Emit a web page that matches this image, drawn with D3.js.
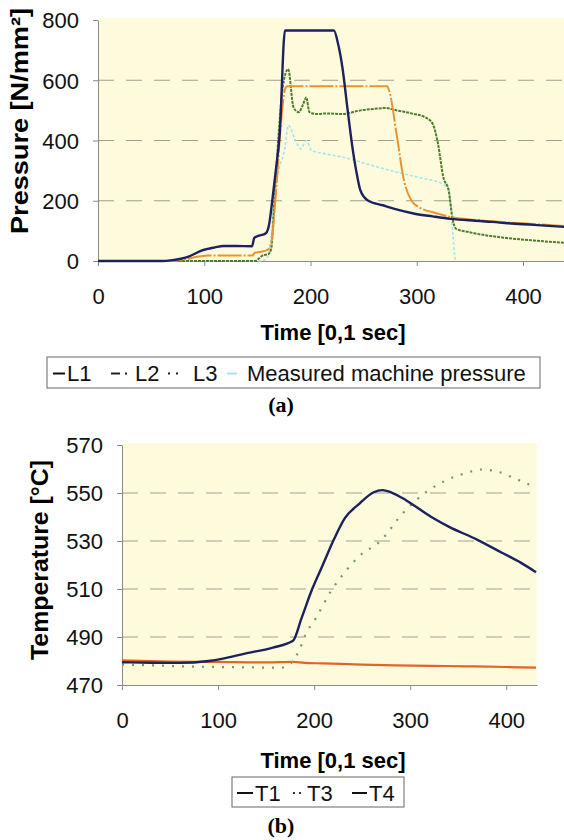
<!DOCTYPE html>
<html>
<head>
<meta charset="utf-8">
<script src="https://cdn.jsdelivr.net/npm/d3@7"></script>
<style>
  body { margin: 0; background: #fff; }
  text { font-family: "Liberation Sans", Arial, sans-serif; }
</style>
</head>
<body>
<div id="chart"></div>
<script>
// ---- chart (a): pressure ----
const l1Time = [0, 60, 70, 84, 98, 110, 118, 130, 145, 147, 150, 158, 161, 164, 167, 171, 176, 222, 226, 230, 235, 239, 243, 247, 254, 268, 280, 298, 315, 332, 360, 383, 410, 440];
const l1Pres = [0, 0, 3, 13, 35, 45, 50, 50, 49, 76, 82, 92, 120, 200, 290, 422, 765, 765, 720, 643, 500, 389, 300, 234, 201, 185, 172, 157, 148, 140, 133, 126, 120, 113];

const l2Time = [0, 70, 80, 95, 105, 145, 148, 152, 160, 163, 168, 172, 176, 178, 272, 274, 281, 288, 295, 305, 315, 332, 360, 400, 440];
const l2Pres = [0, 0, 4, 15, 18, 18, 28, 30, 38, 60, 250, 450, 570, 580, 580, 566, 422, 267, 201, 173, 162, 146, 135, 125, 116];

const l3Time = [0, 148, 152, 156, 160, 163, 166, 170, 174, 179, 184, 189, 193, 196, 199, 206, 215, 230, 247, 260, 271, 281, 295, 308, 315, 320, 325, 330, 334, 337, 349, 383, 410, 440];
const l3Pres = [0, 0, 10, 20, 22, 40, 200, 420, 580, 637, 510, 494, 520, 543, 494, 488, 490, 488, 500, 505, 508, 500, 490, 477, 455, 389, 278, 234, 135, 107, 96, 77, 68, 60];

const machTime = [0, 150, 158, 163, 166, 170, 176, 179, 186, 191, 196, 201, 215, 230, 255, 281, 305, 324, 330, 334, 336, 337];
const machPres = [0, 0, 5, 80, 223, 300, 378, 450, 400, 372, 400, 367, 355, 345, 320, 295, 275, 256, 240, 91, 8, 0];

const presTicks = [0, 200, 400, 600, 800];
const timeTicksA = [0, 100, 200, 300, 400];

// ---- chart (b): temperature ----
const t1Time = [0, 30, 60, 90, 105, 127, 157, 178, 187, 198, 209, 221, 232, 247, 262, 271, 280, 296, 322, 340, 370, 396, 415, 431];
const t1Temp = [479.5, 479.3, 479.2, 480, 481, 483, 485.6, 488.4, 498, 510, 520, 531, 539.5, 545.5, 550.3, 551.2, 550.3, 546.9, 540, 536, 530.5, 525, 521, 517];

const t3Time = [0, 30, 60, 100, 140, 165, 172, 178, 185, 191, 202, 217, 232, 247, 269, 292, 314, 336, 359, 374, 389, 411, 431];
const t3Temp = [478.5, 478.2, 477.8, 477.5, 477.3, 477.2, 478, 480, 485, 491, 498, 508.8, 517, 523.7, 530, 541.4, 549.6, 555, 558.4, 559.8, 559.1, 555.7, 552.3];

const t4Time = [0, 50, 100, 150, 178, 190, 209, 250, 284, 320, 359, 400, 431];
const t4Temp = [480.3, 479.8, 479.6, 479.4, 479.6, 479.2, 479, 478.5, 478.2, 478, 477.8, 477.5, 477.2];

const tempTicks = [470, 490, 510, 530, 550, 570];
const timeTicksB = [0, 100, 200, 300, 400];

const zip = (xs, ys) => xs.map((x, i) => ({ x: x, y: ys[i] }));

const svg = d3.select("#chart").append("svg")
    .attr("width", 564)
    .attr("height", 840);

function drawPanel(cfg) {
    const x = d3.scaleLinear().domain(cfg.xDomain).range(cfg.xRange);
    const y = d3.scaleLinear().domain(cfg.yDomain).range(cfg.yRange);
    const g = svg.append("g");

    const clipId = "clip-" + cfg.id;
    g.append("clipPath").attr("id", clipId)
        .append("rect")
        .attr("x", cfg.xRange[0]).attr("y", cfg.yRange[1] - 2)
        .attr("width", cfg.xRange[1] - cfg.xRange[0])
        .attr("height", cfg.yRange[0] - cfg.yRange[1] + 4);

    // plot background
    g.append("rect")
        .attr("x", cfg.xRange[0]).attr("y", cfg.yRange[1] - 2)
        .attr("width", cfg.xRange[1] - cfg.xRange[0])
        .attr("height", cfg.yRange[0] - cfg.yRange[1] + 2)
        .attr("fill", "#fdfbdc");

    // dashed grid
    g.selectAll(".grid").data(cfg.yTicks.slice(1, -1)).enter()
        .append("line")
        .attr("x1", cfg.xRange[0]).attr("x2", cfg.xRange[1])
        .attr("y1", d => y(d)).attr("y2", d => y(d))
        .attr("stroke", "#a0a090")
        .attr("stroke-width", 1)
        .attr("stroke-dasharray", "16,12");

    // axes
    const yAxis = g.append("g")
        .attr("transform", `translate(${cfg.xRange[0]},0)`)
        .call(d3.axisLeft(y).tickValues(cfg.yTicks).tickSize(5).tickPadding(14).tickSizeOuter(0));
    const xAxis = g.append("g")
        .attr("transform", `translate(0,${cfg.yRange[0]})`)
        .call(d3.axisBottom(x).tickValues(cfg.xTicks).tickSize(5).tickPadding(22).tickSizeOuter(0));
    [xAxis, yAxis].forEach(a => {
        a.select(".domain").attr("stroke", "#8a8a8a");
        a.selectAll(".tick line").attr("stroke", "#8a8a8a");
        a.selectAll(".tick text")
            .attr("fill", "#111")
            .style("font-family", "'Liberation Sans', Arial, sans-serif")
            .style("font-size", "22px");
    });
    yAxis.selectAll(".tick text").attr("dy", "0.36em");

    // lines
    const line = d3.line().curve(d3.curveMonotoneX).x(d => x(d.x)).y(d => y(d.y));
    const lines = g.append("g").attr("clip-path", `url(#${clipId})`);
    cfg.series.forEach(s => {
        lines.append("path")
            .datum(zip(s.t, s.v))
            .attr("fill", "none")
            .attr("stroke", s.color)
            .attr("stroke-width", s.width)
            .attr("stroke-dasharray", s.dash)
            .attr("stroke-linejoin", "round")
            .attr("d", line);
    });

    // axis titles
    g.append("text")
        .attr("x", (cfg.xTitleX))
        .attr("y", cfg.xTitleY)
        .attr("text-anchor", "middle")
        .style("font-size", "22px")
        .style("font-weight", "bold")
        .text("Time [0,1 sec]");
    g.append("text")
        .attr("transform", `translate(${cfg.yTitleX},${cfg.yTitleY}) rotate(-90)`)
        .attr("text-anchor", "middle")
        .attr("textLength", cfg.yTitleLen)
        .attr("lengthAdjust", "spacingAndGlyphs")
        .style("font-size", "24px")
        .style("font-weight", "bold")
        .text(cfg.yTitle);

    // legend
    const lg = g.append("g");
    lg.append("rect")
        .attr("x", cfg.legend.x).attr("y", cfg.legend.y)
        .attr("width", cfg.legend.w).attr("height", cfg.legend.h)
        .attr("fill", "#fff").attr("stroke", "#666").attr("stroke-width", 1);
    cfg.legend.items.forEach(it => {
        lg.append("line")
            .attr("x1", it.sx).attr("x2", it.sx + it.sw)
            .attr("y1", cfg.legend.y + cfg.legend.h / 2 + 1)
            .attr("y2", cfg.legend.y + cfg.legend.h / 2 + 1)
            .attr("stroke", it.color).attr("stroke-width", 2)
            .attr("stroke-dasharray", it.dash);
        lg.append("text")
            .attr("x", it.tx).attr("y", cfg.legend.y + 24)
            .style("font-size", "22px")
            .attr("fill", "#111")
            .text(it.label);
    });

    // panel caption
    svg.append("text")
        .attr("x", cfg.capX).attr("y", cfg.capY)
        .attr("text-anchor", "middle")
        .style("font-family", "'Liberation Serif', 'Times New Roman', serif")
        .style("font-size", "22px")
        .style("font-weight", "bold")
        .text(cfg.caption);
}

drawPanel({
    id: "a",
    xDomain: [0, 440], xRange: [98, 565.5],
    yDomain: [0, 800], yRange: [261, 20],
    xTicks: timeTicksA, yTicks: presTicks,
    xTitleX: 333, xTitleY: 340,
    yTitle: "Pressure [N/mm²]", yTitleX: 28, yTitleY: 121, yTitleLen: 226,
    series: [
        { t: machTime, v: machPres, color: "#a6e3ec", width: 1.6, dash: "3,2" },
        { t: l3Time, v: l3Pres, color: "#4f7d2c", width: 2, dash: "3,1" },
        { t: l2Time, v: l2Pres, color: "#ea9330", width: 2, dash: "24,2,2,2" },
        { t: l1Time, v: l1Pres, color: "#1d2160", width: 2.4, dash: null }
    ],
    legend: {
        x: 47, y: 357, w: 493, h: 31,
        items: [
            { sx: 53, sw: 12, tx: 67, label: "L1", color: "#111", dash: null },
            { sx: 111, sw: 18, tx: 135, label: "L2", color: "#222", dash: "9,5,2,5" },
            { sx: 168, sw: 12, tx: 193, label: "L3", color: "#222", dash: "2,6" },
            { sx: 227, sw: 10, tx: 247, label: "Measured machine pressure", color: "#a6e3ec", dash: null }
        ]
    },
    capX: 281, capY: 412, caption: "(a)"
});

drawPanel({
    id: "b",
    xDomain: [0, 432], xRange: [122, 537],
    yDomain: [470, 570], yRange: [685, 445],
    xTicks: timeTicksB, yTicks: tempTicks,
    xTitleX: 333, xTitleY: 768,
    yTitle: "Temperature [°C]", yTitleX: 48, yTitleY: 560, yTitleLen: 200,
    series: [
        { t: t4Time, v: t4Temp, color: "#e3642a", width: 2.2, dash: null },
        { t: t3Time, v: t3Temp, color: "#7a9476", width: 2.2, dash: "2,8" },
        { t: t1Time, v: t1Temp, color: "#1d2160", width: 2.4, dash: null }
    ],
    legend: {
        x: 232, y: 777, w: 172, h: 30,
        items: [
            { sx: 237, sw: 16, tx: 255, label: "T1", color: "#111", dash: null },
            { sx: 293, sw: 9, tx: 307, label: "T3", color: "#333", dash: "2,4" },
            { sx: 352, sw: 15, tx: 369, label: "T4", color: "#111", dash: null }
        ]
    },
    capX: 281, capY: 833, caption: "(b)"
});
</script>
</body>
</html>
